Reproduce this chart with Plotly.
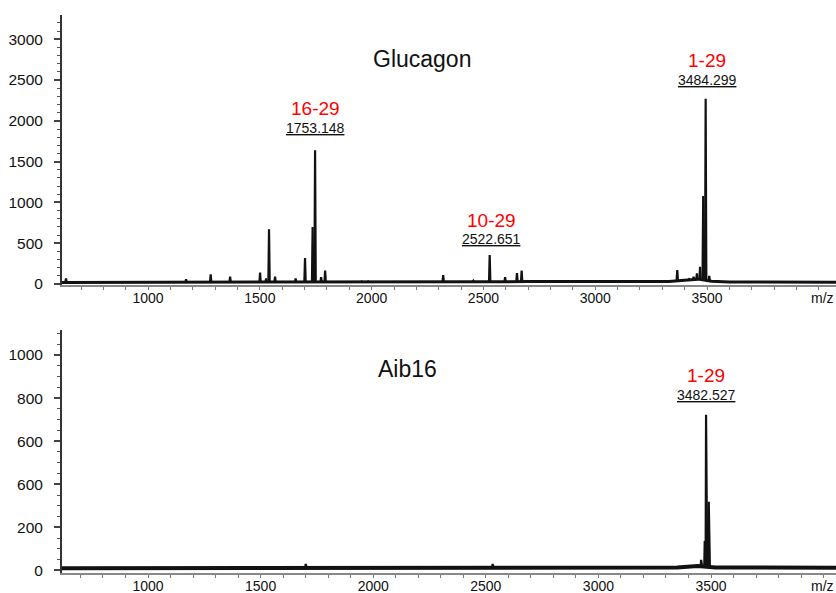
import numpy as np
import plotly.graph_objects as go

# ---------------- data ----------------
# Glucagon spectrum: peak m/z and intensity
glu_peak_mz = [633, 1170, 1280, 1367, 1501, 1528, 1541, 1568, 1660, 1702, 1736, 1747,
               1774, 1792, 1956, 1984, 2320, 2455, 2528, 2597, 2650, 2671, 2800,
               3367, 3420, 3440, 3455, 3469, 3483, 3494, 3510]
glu_peak_int = [70, 60, 120, 90, 140, 70, 670, 90, 70, 320, 700, 1640,
                85, 165, 30, 30, 110, 40, 355, 85, 135, 165, 30,
                170, 60, 90, 130, 210, 1080, 2270, 100]
glu_base_mz = [615, 1000, 1500, 2000, 2500, 2700, 3000, 3330, 3400, 3460, 3520, 3600, 4077]
glu_base_int = [20, 20, 22, 22, 28, 30, 28, 30, 45, 60, 35, 25, 22]

# Aib16 spectrum
aib_peak_mz = [1700, 2530, 3456, 3472, 3478, 3490]
aib_peak_int = [30, 30, 49, 137, 722, 319]
aib_base_mz = [618, 1500, 2500, 3350, 3440, 3520, 4055]
aib_base_int = [10, 12, 12, 14, 20, 14, 12]

# Tick labels
top_y_ticks = [0, 500, 1000, 1500, 2000, 2500, 3000]
top_y_text = ["0", "500", "1000", "1500", "2000", "2500", "3000"]
bot_y_ticks = [0, 200, 400, 600, 800, 1000]
bot_y_text = ["0", "200", "600", "600", "800", "1000"]
x_ticks = [1000, 1500, 2000, 2500, 3000, 3500]
x_text = ["1000", "1500", "2000", "2500", "3000", "3500"]
x_unit = "m/z"

# Annotations: (text, m/z, intensity)
glu_title = ("Glucagon", 2225, 2757)
glu_labels = [("16-29", "1753.148", 1747, 2157, 1912),
              ("10-29", "2522.651", 2534, 784, 551),
              ("1-29", "3484.299", 3500, 2745, 2500)]
aib_title = ("Aib16", 2150, 935)
aib_labels = [("1-29", "3482.527", 3478, 907, 814)]


def stick_trace(peak_mz, peak_int, base_mz, base_int, wl=3, wr=3):
    xs, ys = [], []
    for m, h in sorted(zip(peak_mz, peak_int)):
        b = float(np.interp(m, base_mz, base_int))
        xs += [m - wl, m, m + wr, None]
        ys += [b, h, b, None]
    return xs, ys


fig = go.Figure()

# top panel
fig.add_trace(go.Scatter(x=glu_base_mz, y=glu_base_int, mode="lines",
                         line=dict(color="#111", width=3), xaxis="x", yaxis="y",
                         hoverinfo="skip"))
gx, gy = stick_trace(glu_peak_mz, glu_peak_int, glu_base_mz, glu_base_int)
fig.add_trace(go.Scatter(x=gx, y=gy, mode="lines", line=dict(color="#111", width=2.2),
                         xaxis="x", yaxis="y"))

# bottom panel
fig.add_trace(go.Scatter(x=aib_base_mz, y=aib_base_int, mode="lines",
                         line=dict(color="#111", width=4), xaxis="x2", yaxis="y2",
                         hoverinfo="skip"))
ax, ay = stick_trace(aib_peak_mz, aib_peak_int, aib_base_mz, aib_base_int, wl=2, wr=5)
fig.add_trace(go.Scatter(x=ax, y=ay, mode="lines", line=dict(color="#111", width=2.2),
                         xaxis="x2", yaxis="y2"))

FONT = "Liberation Sans, Arial, sans-serif"


def xaxis_cfg(rng, anchor):
    return dict(domain=[0, 1], range=rng, anchor=anchor, automargin=False,
                tickmode="array", tickvals=x_ticks, ticktext=x_text,
                ticks="outside", ticklen=3, tickcolor="#777", tickwidth=1,
                showline=True, linecolor="#888", linewidth=1.5,
                showgrid=False, zeroline=False,
                tickfont=dict(size=14, color="#111", family=FONT),
                ticklabelstandoff=-4,
                minor=dict(dtick=100, tick0=0, ticks="outside", ticklen=3,
                           tickcolor="#777", showgrid=False))


def yaxis_cfg(dom, rng, tv, tt, mdt, anchor):
    return dict(domain=dom, range=rng, anchor=anchor, automargin=False,
                tickmode="array", tickvals=tv, ticktext=tt,
                ticks="outside", ticklen=6, tickwidth=1.5, tickcolor="#444",
                showline=True, linecolor="#333", linewidth=2,
                showgrid=False, zeroline=False,
                tickfont=dict(size=15.5, color="#111", family=FONT),
                ticklabelstandoff=8,
                minor=dict(dtick=mdt, tick0=0, ticks="outside", ticklen=3,
                           tickcolor="#555", tickwidth=1, showgrid=False))


annotations = []


def add_title(t, xr, yr):
    annotations.append(dict(text=t[0], x=t[1], y=t[2], xref=xr, yref=yr, showarrow=False,
                            xanchor="center", yanchor="middle",
                            font=dict(size=23, color="#111", family=FONT)))


def add_labels(lbls, xr, yr):
    for frag, mass, m, y1, y2 in lbls:
        annotations.append(dict(text=frag, x=m, y=y1, xref=xr, yref=yr, showarrow=False,
                                xanchor="center", yanchor="middle",
                                font=dict(size=19, color="#ff0000", family=FONT)))
        annotations.append(dict(text="<u>" + mass + "</u>", x=m, y=y2, xref=xr, yref=yr,
                                showarrow=False, xanchor="center", yanchor="middle",
                                font=dict(size=14, color="#111", family=FONT)))


def add_unit(xr, yr):
    annotations.append(dict(text=x_unit, x=1, y=0, xref=xr, yref=yr, showarrow=False,
                            xanchor="right", yanchor="top", yshift=-3, xshift=0,
                            font=dict(size=14, color="#111", family=FONT)))


add_title(glu_title, "x", "y")
add_labels(glu_labels, "x", "y")
add_unit("x domain", "y domain")
add_title(aib_title, "x2", "y2")
add_labels(aib_labels, "x2", "y2")
add_unit("x2 domain", "y2 domain")

fig.update_layout(
    width=836, height=593,
    margin=dict(l=62, r=0, t=15, b=20, pad=0, autoexpand=False),
    paper_bgcolor="white", plot_bgcolor="white",
    showlegend=False,
    xaxis=xaxis_cfg([615, 4077], "y"),
    yaxis=yaxis_cfg([0.5161, 1], [-12, 3297], top_y_ticks, top_y_text, 100, "x"),
    xaxis2=xaxis_cfg([618, 4055], "y2"),
    yaxis2=yaxis_cfg([0, 0.4355], [-12, 1116], bot_y_ticks, bot_y_text, 50, "x2"),
    annotations=annotations,
)

# remove the default page margin so the 836x593 figure fills the window exactly
fig.write_html("out.html", config={"displayModeBar": False},
               post_script="document.body.style.margin='0';document.body.style.overflow='hidden';")
